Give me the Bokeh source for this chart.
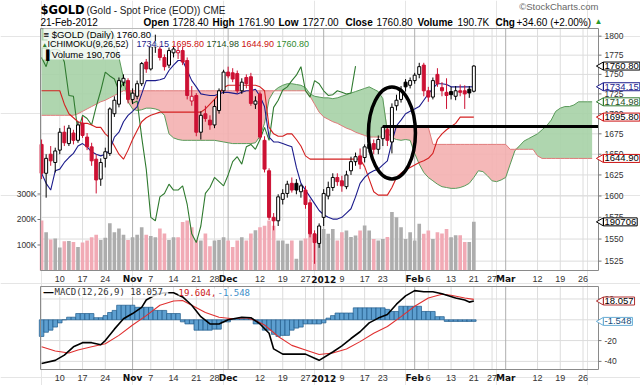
import numpy as np
import pandas as pd
from bokeh.plotting import figure
from bokeh.models import Range1d, LinearScale, Label, ColumnDataSource
from bokeh.embed import file_html
from bokeh.resources import INLINE

# ---------------- data ----------------
FIRST_DAY = "2011-10-04"
LAST_DAY = "2012-03-30"
HOLIDAYS = ["2011-11-24", "2011-12-26", "2012-01-02", "2012-01-16", "2012-02-20"]

OPEN = [1662, 1627, 1650, 1640,
        1655, 1677, 1663, 1676, 1667, 1688, 1671, 1659, 1644, 1620,
        1645, 1651, 1700, 1712, 1740, 1742, 1718, 1722, 1738, 1766,
        1757, 1786, 1783, 1772, 1762, 1778, 1778, 1781, 1768, 1716,
        1723, 1677, 1700, 1692, 1686, 1704, 1729, 1753, 1752, 1751,
        1729, 1746, 1747, 1712, 1725, 1667, 1630, 1575, 1571, 1596,
        1603, 1615, 1615, 1605, 1607, 1592, 1556, 1545, 1575, 1600,
        1610, 1622, 1618, 1611, 1630, 1641, 1648, 1646, 1657, 1663,
        1656, 1669, 1680, 1665, 1710, 1718, 1740, 1736, 1742, 1750,
        1762, 1729, 1721, 1750, 1733, 1727, 1728, 1722, 1729, 1729,
        1731, 1728.40]
HIGH = [1668, 1650, 1660, 1658,
        1682, 1685, 1686, 1680, 1690, 1696, 1676, 1664, 1650, 1645,
        1658, 1708, 1722, 1746, 1750, 1745, 1732, 1742, 1766, 1770,
        1790, 1802, 1790, 1776, 1785, 1790, 1788, 1786, 1772, 1735,
        1726, 1703, 1710, 1698, 1718, 1732, 1756, 1760, 1758, 1755,
        1745, 1750, 1752, 1722, 1728, 1672, 1633, 1580, 1602, 1608,
        1618, 1622, 1620, 1614, 1612, 1596, 1560, 1568, 1608, 1617,
        1627, 1627, 1624, 1630, 1647, 1652, 1657, 1662, 1668, 1668,
        1673, 1685, 1685, 1713, 1724, 1735, 1744, 1746, 1752, 1765,
        1765, 1734, 1746, 1758, 1740, 1745, 1734, 1735, 1737, 1736,
        1735, 1761.90]
LOW = [1620, 1598, 1636, 1628,
       1650, 1660, 1660, 1662, 1664, 1670, 1655, 1636, 1603, 1612,
       1634, 1648, 1696, 1708, 1735, 1713, 1712, 1718, 1735, 1752,
       1755, 1778, 1768, 1755, 1758, 1772, 1770, 1762, 1718, 1710,
       1672, 1668, 1690, 1680, 1682, 1700, 1725, 1745, 1740, 1726,
       1725, 1732, 1710, 1706, 1668, 1628, 1572, 1560, 1565, 1590,
       1598, 1604, 1602, 1598, 1585, 1552, 1522, 1540, 1565, 1596,
       1606, 1612, 1605, 1608, 1625, 1636, 1632, 1640, 1652, 1650,
       1650, 1660, 1660, 1651, 1704, 1714, 1728, 1732, 1738, 1745,
       1722, 1715, 1718, 1734, 1722, 1706, 1718, 1717, 1722, 1706,
       1720, 1727.00]
CLOSE = [1627, 1645, 1642, 1654,
         1677, 1664, 1682, 1667, 1686, 1673, 1659, 1642, 1619, 1640,
         1653, 1706, 1717, 1742, 1745, 1718, 1726, 1738, 1764, 1757,
         1786, 1790, 1772, 1760, 1781, 1783, 1781, 1766, 1723, 1722,
         1677, 1698, 1694, 1686, 1709, 1729, 1753, 1748, 1744, 1729,
         1740, 1738, 1713, 1716, 1671, 1632, 1575, 1571, 1599, 1603,
         1614, 1607, 1607, 1612, 1590, 1556, 1546, 1565, 1603, 1610,
         1622, 1617, 1612, 1625, 1641, 1647, 1638, 1659, 1662, 1656,
         1668, 1683, 1667, 1708, 1717, 1730, 1734, 1742, 1749, 1760,
         1729, 1721, 1742, 1738, 1729, 1723, 1724, 1729, 1727, 1725,
         1726.20, 1760.80]
VOLUME_K = [196, 150, 122, 125,
            90, 115, 116, 112, 92, 110, 118, 130, 140, 120,
            128, 185, 150, 165, 140, 120, 130, 140, 170, 140,
            135, 130, 165, 145, 120, 130, 130, 190, 196, 170,
            120, 118, 145, 95, 118, 120, 130, 118, 92, 118,
            130, 118, 145, 158, 170, 175, 196, 175, 118, 118,
            105, 118, 46, 118, 125, 144, 140, 131, 163, 144,
            163, 118, 150, 157, 131, 137, 157, 176, 157, 124,
            118, 124, 131, 229, 209, 170, 124, 150, 118, 183,
            144, 157, 124, 150, 145, 163, 130, 138, 138, 112,
            112, 190.706]

TENKAN = [1627, 1615, 1607, 1630,
          1632, 1640, 1646, 1651, 1660, 1663, 1659, 1653, 1650, 1648,
          1650, 1655, 1671, 1677, 1690, 1698, 1703, 1709, 1725, 1742,
          1742, 1742, 1743, 1745, 1755, 1762, 1768, 1768, 1755, 1742,
          1734, 1725, 1724, 1723, 1723, 1725, 1727, 1727, 1726, 1725,
          1727, 1729, 1729, 1731, 1722, 1709, 1671, 1665, 1665, 1663,
          1661, 1659, 1634, 1615, 1607, 1599, 1591, 1583, 1578, 1575,
          1573, 1573, 1575, 1580, 1585, 1599, 1615, 1622, 1627, 1630,
          1632, 1637, 1642, 1665, 1685, 1692, 1700, 1703, 1706, 1709,
          1717, 1725, 1732, 1738, 1738, 1737, 1734, 1734, 1734, 1734,
          1734, 1734.15]
KIJUN = [1729, 1729, 1729, 1729,
         1729, 1712, 1700, 1695, 1690, 1688, 1688, 1686, 1683, 1683,
         1675, 1670, 1660, 1650, 1644, 1655, 1668, 1679, 1690, 1695,
         1698, 1700, 1702, 1702, 1702, 1702, 1702, 1702, 1702, 1702,
         1702, 1702, 1706, 1712, 1718, 1725, 1733, 1736, 1736, 1736,
         1736, 1736, 1736, 1736, 1734, 1729, 1683, 1675, 1672, 1672,
         1675, 1675, 1668, 1660, 1648, 1644, 1644, 1644, 1644, 1644,
         1644, 1644, 1644, 1644, 1644, 1644, 1644, 1635, 1620, 1605,
         1601, 1601, 1601, 1610, 1622, 1627, 1631, 1634, 1637, 1640,
         1642, 1645, 1651, 1668, 1675, 1680, 1684, 1688, 1695.80, 1695.80,
         1695.80, 1695.80]
SENKOU_A = [1810, 1810, 1810, 1810, 1810, 1810, 1810, 1810, 1810, 1810, 1810, 1810, 1810, 1810, 1810, 1810,
            1800, 1772, 1745, 1715, 1706, 1704, 1705, 1707, 1707, 1706,
            1704, 1698, 1675, 1670, 1668, 1667, 1667, 1667, 1667, 1667,
            1667, 1667, 1667, 1666, 1665, 1664, 1663, 1663, 1663, 1663,
            1663, 1664, 1672, 1688, 1718, 1728, 1733, 1736, 1738, 1738,
            1737, 1736, 1733, 1725, 1722, 1721, 1720, 1720, 1719, 1720,
            1722, 1724, 1726, 1728, 1730, 1732, 1734, 1731, 1728, 1719,
            1677, 1670, 1668, 1667, 1668, 1667, 1651, 1638, 1628, 1622,
            1618, 1614, 1611, 1610, 1609, 1609, 1610, 1612, 1615, 1622,
            1630, 1629, 1624, 1618, 1617, 1619, 1622, 1638, 1654, 1660,
            1666, 1669, 1672, 1675, 1680, 1685, 1692, 1703, 1707, 1709,
            1709, 1711, 1715, 1715, 1715, 1714.98]
SENKOU_B = [1698, 1698, 1698, 1698, 1698, 1698, 1698, 1698,
            1700, 1703, 1706, 1709, 1712, 1715, 1717, 1720, 1723, 1726, 1729,
            1729, 1729, 1729, 1729, 1729, 1729, 1729, 1729, 1729, 1729,
            1729, 1729, 1729, 1729, 1729, 1729, 1729, 1729, 1729, 1729,
            1729, 1729, 1729, 1729, 1729, 1729, 1729, 1729, 1729, 1729,
            1729, 1729, 1729, 1729, 1729, 1729, 1729, 1729, 1729, 1729,
            1722, 1712, 1702, 1696, 1693, 1690, 1688, 1685, 1682, 1680,
            1677, 1675, 1673, 1671, 1671, 1671, 1671,
            1683, 1683, 1683, 1683, 1683, 1683, 1683, 1683, 1683, 1683,
            1662, 1662, 1662, 1662, 1662, 1662, 1662, 1662, 1662, 1662,
            1662, 1662, 1662, 1662, 1662, 1662, 1662,
            1656, 1656, 1656, 1656, 1656, 1656, 1648,
            1644.90, 1644.90, 1644.90, 1644.90, 1644.90, 1644.90,
            1644.90, 1644.90, 1644.90, 1644.90, 1644.90, 1644.90]
CHIKOU_SHIFT = 26

MACD_DAY = [0, 3, 5, 7, 9, 11, 13, 14, 16, 18, 20, 22, 23, 25, 27, 29, 31, 33, 35, 37,
            39, 41, 44, 46, 48, 50, 51, 53, 55, 58, 60, 61, 64, 66, 68, 70, 72, 74, 76, 78,
            80, 82, 84, 86, 88, 91, 93, 94, 95]
MACD = [-42, -39, -34, -26, -22, -22, -24, -20, -9, 1, 6, 12, 19, 24, 26, 26, 22, 14, 3, -4,
        -4, 0, 2.5, 2, -4, -13, -28, -33, -33, -33, -37, -39, -31, -25, -18, -11.5, -3, 1.6, 5, 15,
        23, 28, 27, 27, 25, 21, 19, 17, 18.057]
SIGNAL_DAY = [0, 3, 6, 8, 11, 14, 17, 20, 23, 26, 29, 31, 33, 36, 39, 42, 45, 47, 49, 52,
              55, 58, 61, 64, 67, 70, 73, 76, 79, 82, 85, 88, 90, 93, 95]
SIGNAL = [-26, -30, -32, -29, -26, -23, -15, -5, 4, 14, 18, 18.5, 14, 7, 2.5, 1, 2, -0.6, -5, -16,
          -24.6, -29, -33.4, -32, -28, -21, -13, -6.5, 3, 13, 21, 24.6, 23.6, 21, 19.604]
HIST = [-16, -12, -10, -7,
        -3, 0, 2.5, 2.5, 6, 6, 6, 6, 2, 2,
        4, 7, 9, 14, 14, 14, 14, 12, 12, 12,
        12, 9, 9, 9, 6, 6, 6, -2, -4, -4,
        -10, -10, -10, -10, -9, -9, -2, -2, 1, 1,
        1, 1, 1, -4, -4, -10, -10, -14, -16, -15,
        -15, -10, -8, -7, -4, -4, -4, -4, -3, 1.6,
        4, 6.5, 6.5, 6.5, 6.5, 11.5, 11.5, 11.5, 11.5, 11.5,
        11.5, 11.5, 10, 8, 8, 13, 13, 13, 13, 13,
        8, 8, 8, 3, 3, -1.6, -1.6, -1.6, -1.6, -1.6,
        -1.6, -1.548]

TICK_DATES = ["2011-10-10", "2011-10-17", "2011-10-24", "2011-11-01", "2011-11-07", "2011-11-14",
              "2011-11-21", "2011-11-28", "2011-12-01", "2011-12-12", "2011-12-19", "2011-12-27",
              "2012-01-03", "2012-01-09", "2012-01-17", "2012-01-23", "2012-02-01", "2012-02-06",
              "2012-02-13", "2012-02-21", "2012-02-27", "2012-03-01", "2012-03-12", "2012-03-19",
              "2012-03-26"]
TICK_LABELS = ["10", "17", "24", "Nov", "7", "14", "21", "28", "Dec", "12", "19", "27",
               "2012", "9", "17", "23", "Feb", "6", "13", "21", "27", "Mar", "12", "19", "26"]
MONTH_LABELS = ["Nov", "Dec", "2012", "Feb", "Mar"]
PRICE_TICKS = [1525, 1550, 1575, 1600, 1625, 1650, 1675, 1700, 1725, 1750, 1775, 1800]
VOLUME_TICKS = [100000, 200000, 300000]
MACD_TICKS = [-40, -20, 0, 20]

# hand-drawn annotations of the original
LEVEL_FROM = "2012-01-23"
LEVEL_PRICE = 1684
RING_DAY = "2012-01-25"
RING_PRICE = 1676

# ---------------- layout geometry (pixels) ----------------
FW, FH = 640, 385
FL, FR = 40, 598          # left / right edge of both panels
PT, PB = 28, 270          # price panel top / bottom
MT, MB = 286, 369         # MACD panel top / bottom
XL, XR = -0.24, 122.4     # visible trading-day window
PMIN, PMAX = 1514.5, 1810.2
VMAX = 949000
MMIN, MMAX = -47.8, 32.0

# ---------------- calendar ----------------
cal = [d.strftime("%Y-%m-%d") for d in pd.bdate_range(FIRST_DAY, LAST_DAY)
       if d.strftime("%Y-%m-%d") not in HOLIDAYS]
day = {d: i for i, d in enumerate(cal)}
n = len(CLOSE)
x = np.arange(n)
tick_pos = [day[d] for d in TICK_DATES]
is_month = [lab in MONTH_LABELS for lab in TICK_LABELS]

o = np.array(OPEN, float); c = np.array(CLOSE, float)
up = [False] + [CLOSE[i] >= CLOSE[i - 1] for i in range(1, n)]
RED = "#cc1133"
col = ["#000000" if u else RED for u in up]
fill = ["white" if c[i] > o[i] else col[i] for i in range(n)]
vcol = ["#adadad" if u else "#f1aab5" for u in up]
src = ColumnDataSource(dict(x=x, h=HIGH, l=LOW, top=np.maximum(o, c), bot=np.minimum(o, c),
                            col=col, fill=fill, vol=np.array(VOLUME_K) * 1000, vcol=vcol))

# ranges spanning the whole canvas, so every panel is placed by its own scale
xpp = (XR - XL) / (FR - FL)
k = np.log(PMAX / PMIN) / (PB - PT)
vpp = VMAX / (PB - PT)
mpp = (MMAX - MMIN) / (MB - MT)

p = figure(width=FW, height=FH,
           x_range=Range1d(XL - FL * xpp, XR + (FW - FR) * xpp),
           y_range=Range1d(PMIN * np.exp(-(FH - PB) * k), PMAX * np.exp(PT * k)),
           y_axis_type="log", x_axis_location=None, y_axis_location=None, title=None,
           toolbar_location=None, output_backend="svg",
           min_border=0, min_border_left=0, min_border_right=0, min_border_top=0,
           min_border_bottom=0)
p.outline_line_color = None
p.background_fill_color = "white"
p.border_fill_color = "white"
p.extra_x_ranges = {"px": Range1d(0, FW)}
p.extra_y_ranges = {"py": Range1d(FH, 0),
                    "vol": Range1d(-(FH - PB) * vpp, VMAX + PT * vpp),
                    "macd": Range1d(MMIN - (FH - MB) * mpp, MMAX + MT * mpp)}
p.extra_y_scales = {"py": LinearScale(), "vol": LinearScale(), "macd": LinearScale()}

GRID = "#dcdcdc"
MGRID = "#b0b0b0"
gcol = [MGRID if m else GRID for m in is_month]

# ---------------- grids ----------------
p.segment(x0=[XL] * len(PRICE_TICKS), x1=[XR] * len(PRICE_TICKS), y0=PRICE_TICKS,
          y1=PRICE_TICKS, line_color=GRID, line_width=1)
p.segment(x0=tick_pos, x1=tick_pos, y0=[PMIN] * len(tick_pos), y1=[PMAX] * len(tick_pos),
          line_color=gcol, line_width=1)
p.segment(x0=[XL] * len(MACD_TICKS), x1=[XR] * len(MACD_TICKS), y0=MACD_TICKS, y1=MACD_TICKS,
          line_color=GRID, line_width=1, y_range_name="macd")
p.segment(x0=tick_pos, x1=tick_pos, y0=[MMIN] * len(tick_pos), y1=[MMAX] * len(tick_pos),
          line_color=gcol, line_width=1, y_range_name="macd")

# ---------------- Ichimoku cloud ----------------
cx = np.arange(len(SENKOU_A))
A = np.array(SENKOU_A, float); B = np.array(SENKOU_B, float); M = np.maximum(A, B)
p.varea(x=cx, y1=B, y2=M, fill_color="#a6d2a6", fill_alpha=0.9)
p.varea(x=cx, y1=A, y2=M, fill_color="#f4b0b0", fill_alpha=0.9)

# ---------------- volume ----------------
p.vbar(x="x", top="vol", bottom=0, width=0.8, fill_color="vcol", line_color=None,
       y_range_name="vol", source=src)

# ---------------- Ichimoku lines ----------------
p.line(cx, A, line_color="#5a9a5a", line_width=1)
p.line(cx, B, line_color="#e07a7a", line_width=1)
p.line(np.arange(n - CHIKOU_SHIFT), CLOSE[CHIKOU_SHIFT:], line_color="#2f7a2f", line_width=1.1)
p.line(x, KIJUN, line_color="#d42020", line_width=1.1)
p.line(x, TENKAN, line_color="#1c1c8c", line_width=1.1)

# ---------------- candles ----------------
p.segment(x0="x", y0="h", x1="x", y1="l", line_color="col", line_width=1, source=src)
p.vbar(x="x", top="top", bottom="bot", width=0.66, fill_color="fill", line_color="col",
       line_width=1, source=src)

# ---------------- hand-drawn marks ----------------
p.segment(x0=[day[LEVEL_FROM]], y0=[LEVEL_PRICE], x1=[XR], y1=[LEVEL_PRICE],
          line_color="black", line_width=3)
p.ellipse(x=[day[RING_DAY]], y=[RING_PRICE], width=47, height=92, width_units="screen",
          height_units="screen", fill_color=None, line_color="black", line_width=3.5)

# ---------------- MACD ----------------
p.vbar(x=x, top=HIST, bottom=0, width=1.0, fill_color="#5d9fd0", line_color="#1f5a8a",
       line_width=0.7, y_range_name="macd")
p.line(SIGNAL_DAY, SIGNAL, line_color="#e03030", line_width=1.1, y_range_name="macd")
p.line(MACD_DAY, MACD, line_color="#000000", line_width=1.6, y_range_name="macd")

# ---------------- panel frames ----------------
p.quad(left=[FL, FL], right=[FR, FR], top=[PT, MT], bottom=[PB, MB], fill_color=None,
       line_color="#8a8a8a", line_width=1, x_range_name="px", y_range_name="py")

# ---------------- tick marks ----------------
p.segment(x0=[FR] * len(PRICE_TICKS), x1=[FR + 3] * len(PRICE_TICKS), y0=PRICE_TICKS,
          y1=PRICE_TICKS, line_color="#777777", x_range_name="px")
p.segment(x0=[FR] * len(MACD_TICKS), x1=[FR + 3] * len(MACD_TICKS), y0=MACD_TICKS,
          y1=MACD_TICKS, line_color="#777777", x_range_name="px", y_range_name="macd")
p.segment(x0=[FL - 3] * len(VOLUME_TICKS), x1=[FL] * len(VOLUME_TICKS), y0=VOLUME_TICKS,
          y1=VOLUME_TICKS, line_color="#777777", x_range_name="px", y_range_name="vol")


def text(xv, yv, s, size=10, color="#000000", bold=False, font="Liberation Sans",
         align="left", baseline="middle", xr="px", yr="py", bg=None, bg_alpha=0.8,
         border=None, pad=0):
    lab = Label(x=xv, y=yv, text=s, x_range_name=xr, y_range_name=yr, text_font=font,
                text_font_size=f"{size}px", text_font_style="bold" if bold else "normal",
                text_color=color, text_align=align, text_baseline=baseline)
    if bg is not None:
        lab.background_fill_color = bg
        lab.background_fill_alpha = bg_alpha
    if border is not None:
        lab.border_line_color = border
        lab.border_line_width = 1
    if pad:
        lab.padding = pad
    p.add_layout(lab)


# axis labels
for t in PRICE_TICKS:
    text(FR + 6, t, f"{t}", size=8.5, color="#333333", yr="default")
for t in MACD_TICKS:
    text(FR + 6, t, f"{t}", size=8.5, color="#333333", yr="macd")
for v in VOLUME_TICKS:
    text(FL - 4, v, f"{v // 1000}K", size=8.5, color="#333333", align="right", yr="vol")
for tp, lab, m in zip(tick_pos, TICK_LABELS, is_month):
    for yy in (PB + 8.5, MB + 8.5):
        if m:
            text(tp, yy, lab, size=9, bold=True, font="DejaVu Sans", color="#111111",
                 align="center", xr="default")
        else:
            text(tp, yy, lab, size=9, color="#333333", align="center", xr="default")

# header
chg = CLOSE[-1] - CLOSE[-2]
pct = chg / CLOSE[-2] * 100
text(40, 9, "$GOLD", size=11.5, bold=True, font="DejaVu Sans")
text(86, 9.5, "(Gold - Spot Price (EOD)) CME", size=10, color="#222222")
text(598, 6, "\u00a9StockCharts.com", size=9.5, color="#666666", align="right")
parts = [(40, "21-Feb-2012", False), (143, "Open", True), (172, f"{OPEN[-1]:.2f}", False),
         (212, "High", True), (238, f"{HIGH[-1]:.2f}", False), (278, "Low", True),
         (302, f"{LOW[-1]:.2f}", False), (345, "Close", True), (376, f"{CLOSE[-1]:.2f}", False),
         (417, "Volume", True), (457, f"{VOLUME_K[-1]:.1f}K", False), (495, "Chg", True),
         (516, f"{chg:+.2f} ({pct:+.2f}%)", False)]
for px_, t, b in parts:
    text(px_, 21.5, t, size=10, bold=b)
text(594, 21, "\u25b2", size=8, color="#2a9a2a")

# legend rows
text(43, 33.5, f"\u2261 $GOLD (Daily) {CLOSE[-1]:.2f}", size=9.5, bg="white")
text(41, 43.5, "\u25b2", size=6.5, color="#2f7a2f", bg="white")
text(47, 43.5, "ICHIMOKU(9,26,52)", size=9, bg="white")
for px_, v, cc in [(136, TENKAN[-1], "#1c1c8c"), (171, KIJUN[-1], "#cc1111"),
                   (206, SENKOU_A[-1], "#1f4f1f"), (241, SENKOU_B[-1], "#cc1111"),
                   (276, CLOSE[-1], "#2f8a2f")]:
    text(px_, 43.5, f"{v:.2f}", size=9, color=cc, bg="white")
text(42, 53.5, f"\u2590 Volume {int(round(VOLUME_K[-1] * 1000)):,}", size=9.5, bg="white")

# MACD legend
text(43, 291.5, "\u2014", size=10, bold=True)
text(54, 291.5, f"MACD(12,26,9) {MACD[-1]:.3f},", size=9, color="#333333",
     font="DejaVu Sans Mono", bg="white")
text(178, 291.5, f"{SIGNAL[-1]:.3f},", size=9, color="#cc2222", font="DejaVu Sans Mono",
     bg="white")
text(217, 291.5, f"{HIST[-1]:.3f}", size=9, color="#3d8ec9", font="DejaVu Sans Mono",
     bg="white")


# value boxes on the right edge
def box(v, s, line, tcolor="#000000", yr="default"):
    p.scatter(x=[FR + 2.5], y=[v], marker="triangle", angle=np.pi / 2, size=8,
              fill_color="white", line_color=line, x_range_name="px", y_range_name=yr)
    text(FR + 5, v, s, size=9.5, color=tcolor, yr=yr, bg="white", bg_alpha=1.0,
         border=line, pad=1)


box(CLOSE[-1], f"{CLOSE[-1]:.2f}", "#000000")
box(TENKAN[-1], f"{TENKAN[-1]:.2f}", "#1c1c8c", "#1c1c8c")
box(SENKOU_A[-1], f"{SENKOU_A[-1]:.2f}", "#2f7a2f", "#1f4f1f")
box(KIJUN[-1], f"{KIJUN[-1]:.2f}", "#cc1111")
box(SENKOU_B[-1], f"{SENKOU_B[-1]:.2f}", "#cc1111")
box(VOLUME_K[-1] * 1000, f"{int(round(VOLUME_K[-1] * 1000))}", "#000000", yr="vol")
box(MACD[-1], f"{MACD[-1]:.3f}", "#b03030", yr="macd")
box(HIST[-1], f"{HIST[-1]:.3f}", "#6aaed6", "#1a4e7a", yr="macd")

open("out.html", "w").write(file_html(p, INLINE))
